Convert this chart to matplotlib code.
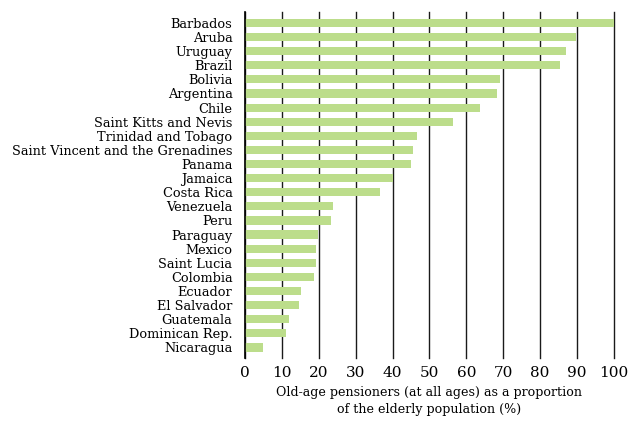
import matplotlib
matplotlib.use("Agg")
import matplotlib.pyplot as plt

countries = ["Barbados", "Aruba", "Uruguay", "Brazil", "Bolivia", "Argentina", "Chile",
             "Saint Kitts and Nevis", "Trinidad and Tobago", "Saint Vincent and the Grenadines",
             "Panama", "Jamaica", "Costa Rica", "Venezuela", "Peru", "Paraguay", "Mexico",
             "Saint Lucia", "Colombia", "Ecuador", "El Salvador", "Guatemala",
             "Dominican Rep.", "Nicaragua"]
values = [100.0, 89.6, 87.1, 85.5, 69.2, 68.4, 63.8, 56.4, 46.6, 45.6, 45.0, 40.1, 36.6,
          23.8, 23.3, 19.8, 19.2, 19.2, 18.7, 15.1, 14.6, 11.9, 11.1, 4.8]
xticks = [0, 10, 20, 30, 40, 50, 60, 70, 80, 90, 100]
xlabel = "Old-age pensioners (at all ages) as a proportion\nof the elderly population (%)"

plt.rcParams['font.family'] = ['DejaVu Serif', 'Liberation Serif']

fig = plt.figure(figsize=(6.29, 4.21), dpi=100)
ax = fig.add_axes([0.3895, 0.1496, 0.5866, 0.822])

ypos = list(range(len(countries)))
for x in xticks:
    ax.axvline(x, color="#1a1a1a", lw=1.0, zorder=1, clip_on=False)
ax.barh(ypos, values, height=0.58, color="#bcdd8b", zorder=2)

ax.set_xlim(0, 100)
ax.set_ylim(len(countries) - 1 + 0.75, -0.78)
ax.set_yticks(ypos)
ax.set_yticklabels(countries, fontsize=9.3)
ax.set_xticks(xticks)
ax.set_xticklabels([str(t) for t in xticks], fontsize=11)
ax.tick_params(axis="y", length=0, pad=9)
ax.tick_params(axis="x", length=0, pad=6)
for s in ["top", "right", "bottom"]:
    ax.spines[s].set_visible(False)
ax.spines["left"].set_color("black")
ax.spines["left"].set_linewidth(1.2)
ax.spines["left"].set_zorder(3)
ax.set_xlabel(xlabel, fontsize=9.1, labelpad=4, linespacing=1.45)

fig.savefig("out.png", dpi=100)
